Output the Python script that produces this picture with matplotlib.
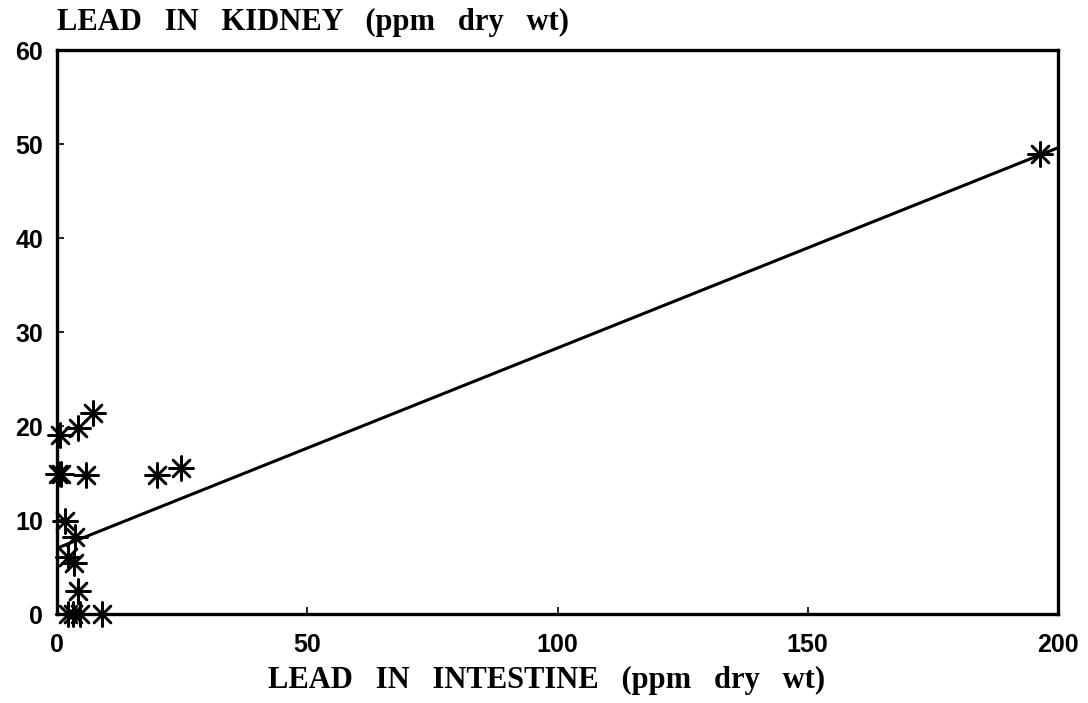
import matplotlib
matplotlib.use("Agg")
import matplotlib.pyplot as plt

# Data
intestine = [7.2, 4.2, 0.6, 0.2, 0.8, 5.8, 19.9, 24.7, 1.6, 3.6, 2.2, 3.4, 4.2,
             2.2, 3.2, 4.6, 8.9, 196.4]
kidney = [21.4, 19.8, 19.0, 14.9, 14.9, 14.8, 14.8, 15.5, 9.9, 8.2, 6.1, 5.4, 2.5,
          0.0, 0.0, 0.0, 0.0, 48.9]
fit_x = [0, 200]
fit_y = [7.0, 49.6]
xticks = [0, 50, 100, 150, 200]
yticks = [0, 10, 20, 30, 40, 50, 60]

W, H = 1088, 703
fig = plt.figure(figsize=(W / 100, H / 100), dpi=100)
L, R, T, B = 57, 1058, 50, 614
ax = fig.add_axes([L / W, 1 - B / H, (R - L) / W, (B - T) / H])

ax.plot(fit_x, fit_y, color="black", lw=2.2, zorder=2)
ax.scatter(intestine, kidney, marker=(8, 2, 0), s=300, color="black",
           linewidths=1.8, zorder=3, clip_on=False)

ax.set_xlim(0, 200)
ax.set_ylim(0, 60)
ax.set_xticks(xticks)
ax.set_yticks(yticks)
ax.tick_params(axis="both", direction="in", length=5, width=1.2, labelsize=18)
ax.tick_params(axis="x", pad=14)
ax.tick_params(axis="y", pad=10)
for lab in ax.get_xticklabels() + ax.get_yticklabels():
    lab.set_fontfamily("Liberation Sans")
    lab.set_fontweight("bold")
for s in ax.spines.values():
    s.set_linewidth(2.4)

serif = dict(family="Liberation Serif", weight="bold", fontsize=22)
fig.text(547 / W, 1 - 680 / H, "LEAD   IN   INTESTINE   (ppm   dry   wt)",
         ha="center", va="center", **serif)
fig.text(57 / W, 1 - 22 / H, "LEAD   IN   KIDNEY   (ppm   dry   wt)",
         ha="left", va="center", **serif)

fig.savefig("out.png", dpi=100)
